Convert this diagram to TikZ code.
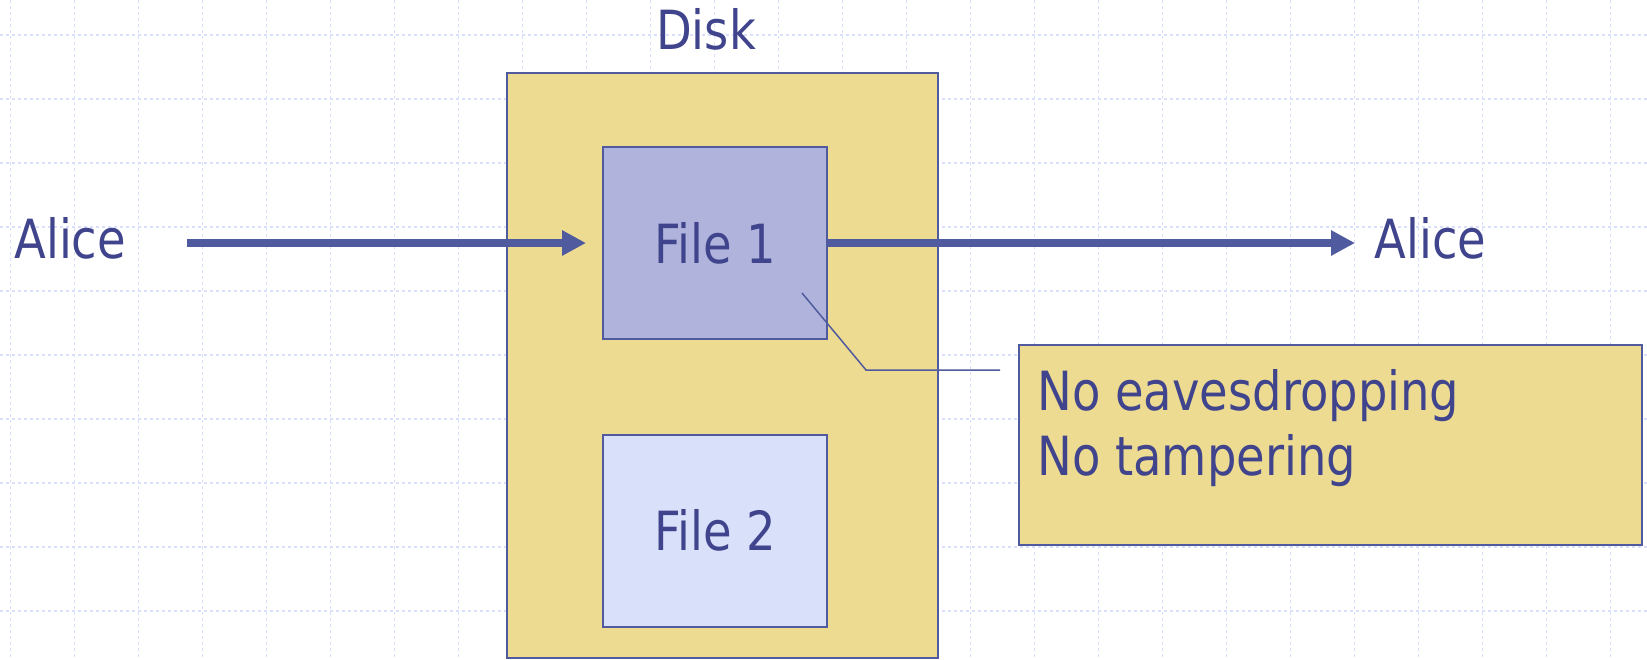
\documentclass[tikz,border=0pt]{standalone}
\usepackage{fontspec}
\setmainfont{DejaVu Sans}[FakeStretch=0.86]
\usetikzlibrary{arrows.meta,positioning}
\definecolor{gridblue}{RGB}{216,224,251}
\definecolor{diskyellow}{RGB}{238,219,146}
\definecolor{fileonefill}{RGB}{176,180,220}
\definecolor{filetwofill}{RGB}{216,224,250}
\definecolor{linecol}{RGB}{80,90,158}
\definecolor{textcol}{RGB}{64,68,140}
\tikzset{
  gridline/.style={draw=gridblue,line width=0.75pt,dash pattern=on 1.6pt off 1.4pt},
  lbl/.style={text=textcol,font=\fontsize{27}{32.5}\selectfont,inner sep=0pt},
  panel/.style={draw=linecol,line width=1pt},
  filebox/.style={panel,lbl,minimum width=112pt,minimum height=96pt},
  flow/.style={draw=linecol,line width=4pt,-{Triangle[length=12pt,width=12pt]}},
}

\begin{document}
\begin{tikzpicture}[x=0.5pt,y=-0.5pt]
\pgfmathsetmacro{\gridA}{10.7}
\pgfmathsetmacro{\gridB}{35}
\pgfmathsetmacro{\gridS}{64}
\useasboundingbox (0,0) rectangle (1647,659);
%
\foreach \gx in {0,...,25}
  \draw[gridline] ({\gridA+\gridS*\gx},0) -- ({\gridA+\gridS*\gx},659);
\foreach \gy in {0,...,9}
  \draw[gridline] (0,{\gridB+\gridS*\gy}) -- (1647,{\gridB+\gridS*\gy});
%
\node[panel,fill=diskyellow,minimum width=215.5pt,minimum height=292.5pt] (disk) at (722.5,365.5) {};
\node[lbl,anchor=base] (disklabel) at (706,49) {Disk};
\node[filebox,fill=fileonefill] (file1) at (715,243) {File 1};
\node[filebox,fill=filetwofill] (file2) at (715,530.5) {File 2};
\node[lbl,anchor=base west] (alicein) at (14,258) {Alice};
\node[lbl,anchor=base west] (aliceout) at (1374,258) {Alice};
\node[panel,fill=diskyellow,minimum width=311.5pt,minimum height=100pt] (note) at (1330.5,445) {};
\node[lbl,anchor=north west,align=left] (notetext) at (1037,369) {No eavesdropping\\No tampering};
%
\coordinate (start) at (187,243);
\draw[flow,shorten >=8pt] (start) -- (start -| file1.west);
\draw[flow,shorten >=9.5pt] (file1.east) -- (file1.east -| aliceout.west);
%
\coordinate (pin) at (802,293);
\coordinate (bend) at (866,370);
\draw[linecol,line width=0.75pt,shorten >=9pt] (pin) -- (bend) -- (bend -| note.west);
\end{tikzpicture}
\end{document}
